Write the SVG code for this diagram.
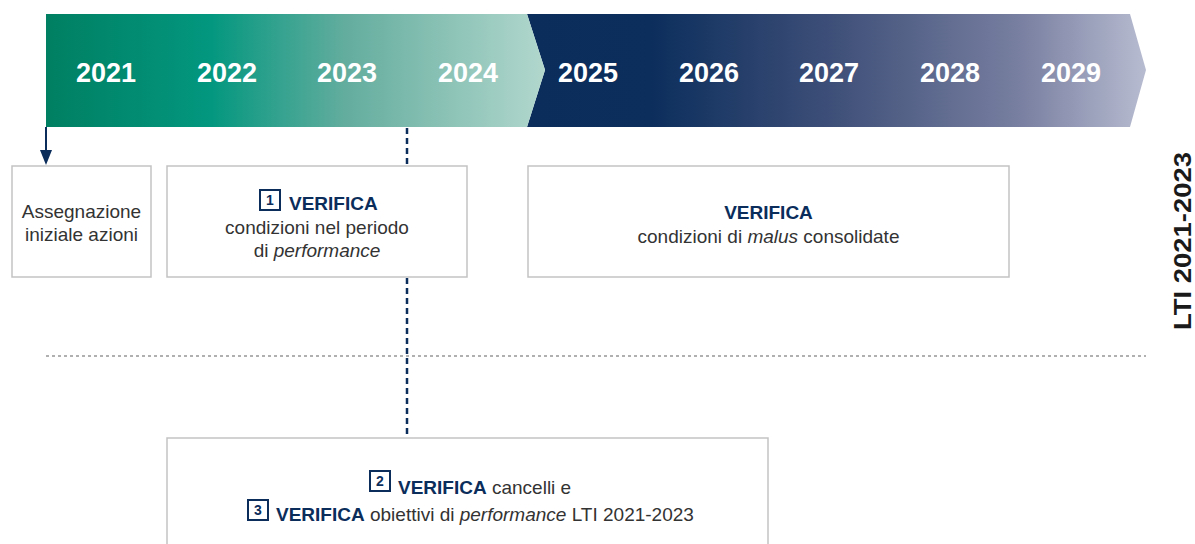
<svg xmlns="http://www.w3.org/2000/svg" width="1195" height="544" viewBox="0 0 1195 544">
<style>
.yr{font-family:"Liberation Sans",Arial,sans-serif;font-weight:bold;font-size:27px;fill:#ffffff;text-anchor:middle}
.box{fill:#ffffff;stroke:#c3c3c3;stroke-width:1.5}
.t{font-family:"Liberation Sans",Arial,sans-serif;font-size:19px;fill:#333333}
.b{font-weight:bold;fill:#0b2d5b}
.i{font-style:italic}
.num{fill:#ffffff;stroke:#0b2d5b;stroke-width:2}
.nt{font-family:"Liberation Sans",Arial,sans-serif;font-size:14px;font-weight:bold;fill:#0b2d5b;text-anchor:middle}
.dash{stroke:#0b2d5b;stroke-width:2.5;stroke-dasharray:6 4;fill:none}
</style>
<defs>
<linearGradient id="gGreen" gradientUnits="userSpaceOnUse" x1="46" y1="0" x2="545" y2="0">
<stop offset="0" stop-color="#007f62"/>
<stop offset="0.33" stop-color="#03977f"/>
<stop offset="0.6" stop-color="#63ad9e"/>
<stop offset="1" stop-color="#b2d7cd"/>
</linearGradient>
<linearGradient id="gNavy" gradientUnits="userSpaceOnUse" x1="527" y1="0" x2="1146" y2="0">
<stop offset="0" stop-color="#0b2d5b"/>
<stop offset="0.2" stop-color="#0c2e5c"/>
<stop offset="0.5" stop-color="#3f5079"/>
<stop offset="0.8" stop-color="#7980a1"/>
<stop offset="1" stop-color="#b8bcd1"/>
</linearGradient>
</defs>

<g id="timeline">
<polygon points="527,14 1130,14 1146,70 1130,127 527,127 545,70" fill="url(#gNavy)"/>
<polygon points="46,14 527,14 545,70 527,127 46,127" fill="url(#gGreen)"/>
<text class="yr" x="106" y="82">2021</text>
<text class="yr" x="227" y="82">2022</text>
<text class="yr" x="347" y="82">2023</text>
<text class="yr" x="468" y="82">2024</text>
<text class="yr" x="588" y="82">2025</text>
<text class="yr" x="709" y="82">2026</text>
<text class="yr" x="829" y="82">2027</text>
<text class="yr" x="950" y="82">2028</text>
<text class="yr" x="1071" y="82">2029</text>
</g>

<line x1="46" y1="356" x2="1146" y2="356" stroke="#b0b0b0" stroke-width="2" stroke-dasharray="3 3"/>

<g id="connectors">
<line x1="46" y1="127" x2="46" y2="150" stroke="#0b2d5b" stroke-width="2"/>
<path d="M40,150 L52,150 L46,165 Z" fill="#0b2d5b"/>
<line class="dash" x1="407" y1="128" x2="407" y2="166"/>
<line class="dash" x1="407" y1="278" x2="407" y2="438"/>
</g>

<g id="node-assegnazione">
<rect class="box" x="12" y="166" width="139" height="111"/>
<text class="t" x="81.5" y="218" text-anchor="middle" font-size="17.5">Assegnazione</text>
<text class="t" x="81.5" y="241" text-anchor="middle" font-size="17.5">iniziale azioni</text>
</g>

<g id="node-verifica1">
<rect class="box" x="167" y="166" width="300" height="111"/>
<rect class="num" x="260" y="190" width="20" height="20"/>
<text class="nt" x="270" y="205">1</text>
<text class="t b" x="289" y="210">VERIFICA</text>
<text class="t" x="317" y="234" text-anchor="middle">condizioni nel periodo</text>
<text class="t" x="317" y="257" text-anchor="middle">di <tspan class="i">performance</tspan></text>
</g>

<g id="node-malus">
<rect class="box" x="528" y="166" width="481" height="111"/>
<text class="t b" x="768.5" y="219" text-anchor="middle">VERIFICA</text>
<text class="t" x="768.5" y="243" text-anchor="middle">condizioni di <tspan class="i">malus</tspan> consolidate</text>
</g>

<g id="node-verifica23">
<rect class="box" x="167" y="438" width="601" height="120"/>
<rect class="num" x="370" y="471" width="20" height="20"/>
<text class="nt" x="380" y="486">2</text>
<text class="t" x="398" y="494"><tspan class="b">VERIFICA</tspan> cancelli e</text>
<rect class="num" x="248" y="500" width="20" height="20"/>
<text class="nt" x="258" y="515">3</text>
<text class="t" x="276" y="521"><tspan class="b">VERIFICA</tspan> obiettivi di <tspan class="i">performance</tspan> LTI 2021-2023</text>
</g>

<g id="side-label">
<text x="1191" y="241" transform="rotate(-90 1191 241)" text-anchor="middle" font-family="'Liberation Sans',Arial,sans-serif" font-weight="bold" font-size="23" fill="#1a1a1a" textLength="178" lengthAdjust="spacingAndGlyphs">LTI 2021-2023</text>
</g>
</svg>
